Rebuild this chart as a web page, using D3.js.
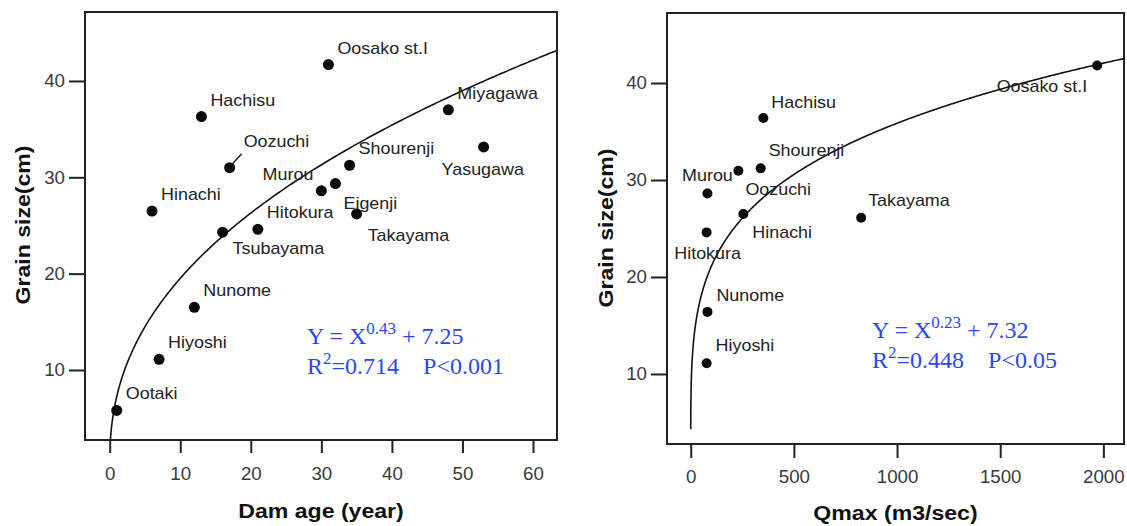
<!DOCTYPE html>
<html>
<head>
<meta charset="utf-8">
<script src="https://cdn.jsdelivr.net/npm/d3@7"></script>
<style>
  html, body { margin: 0; padding: 0; background: #fff; }
  svg { display: block; }
  text { font-family: Arial, "Liberation Sans", sans-serif; }
  .eq { font-family: "Times New Roman", "Liberation Serif", serif; fill: #2a48f2; white-space: pre; }
</style>
</head>
<body>
<svg id="chart" width="1127" height="526"></svg>
<script>
// left panel: dam age vs grain size
const damNames = ['Ootaki', 'Hiyoshi', 'Nunome', 'Hinachi', 'Hachisu', 'Tsubayama', 'Oozuchi', 'Hitokura',
    'Murou', 'Oosako st.I', 'Eigenji', 'Shourenji', 'Takayama', 'Miyagawa', 'Yasugawa'];
const damAge = [1, 7, 12, 6, 13, 16, 17, 21, 30, 31, 32, 34, 35, 48, 53];
const grainByAge = [5.8, 11.1, 16.5, 26.5, 36.3, 24.3, 31.0, 24.6, 28.6, 41.7, 29.35, 31.25, 26.2, 37.0, 33.15];

// right panel: Qmax vs grain size
const qNames = ['Hiyoshi', 'Nunome', 'Hitokura', 'Murou', 'Oozuchi', 'Hinachi', 'Shourenji', 'Hachisu', 'Takayama', 'Oosako st.I'];
const qmax = [77, 81, 77, 81, 231, 255, 339, 352, 826, 1970];
const grainByQ = [11.1, 16.4, 24.6, 28.6, 30.95, 26.5, 31.2, 36.4, 26.1, 41.8];

// fitted curves Y = a * X^b
const fitAge = { a: 7.25, b: 0.43, from: 0.1 };
const fitQ = { a: 7.32, b: 0.23, from: 0.1 };

const ageTicks = [0, 10, 20, 30, 40, 50, 60];
const qTicks = [0, 500, 1000, 1500, 2000];
const grainTicks = [10, 20, 30, 40];

const eqAge = ['0.43', '7.25', '0.714', '0.001'];
const eqQ = ['0.23', '7.32', '0.448', '0.05'];

// label placement: [dx, dy, anchor]
const labelPosAge = {
    'Oozuchi': [14, -21], 'Murou': [-8, -11, 'end'], 'Yasugawa': [-42, 28],
    'Eigenji': [8, 25], 'Takayama': [11, 27], 'Tsubayama': [10, 22]
};
const labelPosQ = {
    'Hachisu': [8, -10], 'Shourenji': [8, -12], 'Murou': [0, -13, 'middle'], 'Oozuchi': [7, 24],
    'Hinachi': [9, 24], 'Hitokura': [1, 27, 'middle'], 'Hiyoshi': [9, -12], 'Takayama': [7, -12],
    'Oosako st.I': [-10, 26, 'end']
};

const svg = d3.select('#chart');
const SX = 1.12;   // the original figure is a bit stretched sideways
const TX = 1.04;   // tick labels

function stretchText(g, x, y, str, anchor, size, sx) {
    return g.append('text')
        .attr('transform', `translate(${x},${y}) scale(${sx},1)`)
        .attr('text-anchor', anchor || 'start')
        .style('font-size', size + 'px')
        .text(str);
}

function panel(cfg) {
    let g = svg.append('g');
    let x = d3.scaleLinear().domain(cfg.xDomain).range([cfg.x0, cfg.x1]);
    let y = d3.scaleLinear().domain(cfg.yDomain).range([cfg.y1, cfg.y0]);

    g.append('clipPath').attr('id', cfg.id + '_clip')
        .append('rect')
        .attr('x', cfg.x0).attr('y', cfg.y0)
        .attr('width', cfg.x1 - cfg.x0).attr('height', cfg.y1 - cfg.y0);

    // axes (ticks outside the frame)
    let yAxis = g.append('g')
        .attr('transform', `translate(${cfg.x0},0)`)
        .call(d3.axisLeft(y).tickValues(grainTicks).tickSize(cfg.yTick).tickPadding(4).tickFormat(d3.format('d')));
    let xAxis = g.append('g')
        .attr('transform', `translate(0,${cfg.y1})`)
        .call(d3.axisBottom(x).tickValues(cfg.xTicks).tickSize(cfg.xTick).tickPadding(cfg.xPad).tickFormat(d3.format('d')));
    [yAxis, xAxis].forEach(a => {
        a.select('.domain').remove();
        a.selectAll('.tick line').attr('stroke', '#222').attr('stroke-width', 2);
        a.selectAll('.tick text')
            .attr('fill', '#3a3a3a')
            .style('font-size', '18px')
            .attr('transform', `scale(${TX},1)`)
            .attr('x', function () { return +d3.select(this).attr('x') / TX; });
    });

    // fitted curve
    let xs = d3.range(0, 1.00001, 0.002).map(t => cfg.fit.from + (cfg.xDomain[1] - cfg.fit.from) * t * t * t);
    let line = d3.line()
        .x(d => x(d))
        .y(d => y(cfg.fit.a * Math.pow(d, cfg.fit.b)));
    g.append('path')
        .datum(xs)
        .attr('clip-path', `url(#${cfg.id}_clip)`)
        .attr('d', line)
        .attr('fill', 'none')
        .attr('stroke', '#111')
        .attr('stroke-width', 1.6);

    // points
    let pts = cfg.names.map((n, i) => ({ name: n, x: cfg.xs[i], y: cfg.ys[i] }));
    g.selectAll('circle')
        .data(pts)
        .enter()
        .append('circle')
        .attr('cx', d => x(d.x))
        .attr('cy', d => y(d.y))
        .attr('r', cfg.r)
        .attr('fill', '#0a0a0a');

    pts.forEach(d => {
        let p = cfg.labels[d.name] || [9, -11];
        stretchText(g, x(d.x) + p[0], y(d.y) + p[1], d.name, p[2], 16, SX).attr('fill', '#222');
    });

    // frame
    g.append('rect')
        .attr('x', cfg.x0).attr('y', cfg.y0)
        .attr('width', cfg.x1 - cfg.x0).attr('height', cfg.y1 - cfg.y0)
        .attr('fill', 'none')
        .attr('stroke', '#222')
        .attr('stroke-width', 2);

    // axis titles
    stretchText(g, (cfg.x0 + cfg.x1) / 2, cfg.xTitleY, cfg.xTitle, 'middle', 21, 1.1)
        .style('font-weight', 'bold').attr('fill', '#111');
    g.append('text')
        .attr('transform', `translate(${cfg.yTitleX},${cfg.yTitleY}) rotate(-90) scale(1.1,1)`)
        .attr('text-anchor', 'middle')
        .style('font-size', '21px')
        .style('font-weight', 'bold')
        .attr('fill', '#111')
        .text('Grain size(cm)');

    // equation
    let e = cfg.eq;
    let t1 = g.append('text').attr('class', 'eq').attr('x', cfg.eqX).attr('y', cfg.eqY).style('font-size', '24px');
    t1.append('tspan').text('Y = X');
    t1.append('tspan').attr('dy', -10).style('font-size', '17px').text(e[0]);
    t1.append('tspan').attr('dy', 10).text(' + ' + e[1]);
    let t2 = g.append('text').attr('class', 'eq').attr('x', cfg.eqX).attr('y', cfg.eqY + 30).style('font-size', '24px');
    t2.append('tspan').text('R');
    t2.append('tspan').attr('dy', -10).style('font-size', '17px').text('2');
    t2.append('tspan').attr('dy', 10).text('=' + e[2] + '    P<' + e[3]);

    return { x, y, g };
}

let left = panel({
    id: 'age', x0: 85, x1: 557, y0: 12, y1: 440,
    xDomain: [-3.5, 63.4], yDomain: [2.73, 47.16],
    xTicks: ageTicks, yTick: 16, xTick: 13, xPad: 14,
    fit: fitAge, names: damNames, xs: damAge, ys: grainByAge, r: 5.5,
    labels: labelPosAge,
    xTitle: 'Dam age (year)', xTitleY: 518, yTitleX: 30, yTitleY: 225,
    eq: eqAge, eqX: 307, eqY: 344
});

// small leader line at Oozuchi
left.g.append('line')
    .attr('x1', left.x(17) + 3).attr('y1', left.y(31.0) - 4)
    .attr('x2', left.x(17) + 12).attr('y2', left.y(31.0) - 14)
    .attr('stroke', '#222').attr('stroke-width', 1.5);

panel({
    id: 'q', x0: 667, x1: 1124, y0: 13, y1: 444,
    xDomain: [-115, 2100], yDomain: [2.78, 47.22],
    xTicks: qTicks, yTick: 16, xTick: 14, xPad: 12,
    fit: fitQ, names: qNames, xs: qmax, ys: grainByQ, r: 5,
    labels: labelPosQ,
    xTitle: 'Qmax (m3/sec)', xTitleY: 520, yTitleX: 613, yTitleY: 228,
    eq: eqQ, eqX: 872, eqY: 338
});
</script>
</body>
</html>
